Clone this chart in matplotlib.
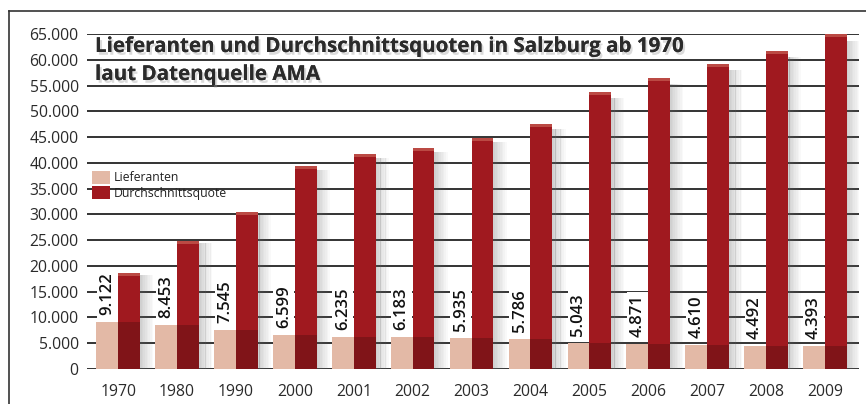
import matplotlib
matplotlib.use("Agg")
import matplotlib.pyplot as plt
import matplotlib.patheffects as pe
from matplotlib.lines import Line2D
import numpy as np

years = ["1970", "1980", "1990", "2000", "2001", "2002", "2003",
         "2004", "2005", "2006", "2007", "2008", "2009"]
lieferanten = [9122, 8453, 7545, 6599, 6235, 6183, 5935,
               5786, 5043, 4871, 4610, 4492, 4393]
quote = [18700, 24900, 30400, 39400, 41700, 42900, 44900,
         47500, 53700, 56400, 59200, 61700, 65000]
lief_labels = ["9.122", "8.453", "7.545", "6.599", "6.235", "6.183", "5.935",
               "5.786", "5.043", "4.871", "4.610", "4.492", "4.393"]
yticks = list(range(0, 65001, 5000))
ytick_labels = ["0", "5.000", "10.000", "15.000", "20.000", "25.000", "30.000",
                "35.000", "40.000", "45.000", "50.000", "55.000", "60.000", "65.000"]
title1 = "Lieferanten und Durchschnittsquoten in Salzburg ab 1970"
title2 = "laut Datenquelle AMA"
legend_labels = ["Lieferanten", "Durchschnittsquote"]

plt.rcParams['font.family'] = ['Open Sans', 'DejaVu Sans']

W, H = 866, 404
fig = plt.figure(figsize=(W / 100, H / 100), dpi=100)
ax = fig.add_axes([87 / W, 1 - 369 / H, (859 - 87) / W, (369 - 34) / H])

light_col = "#e3b9a6"
red_col = "#a0191f"
x = np.arange(len(years))
bw = 0.37

# gridlines
for yv in yticks:
    ax.axhline(yv, color="#111111", lw=1.2, zorder=1)

px_per_unit_y = (369 - 34) / 65000.0
cap = 3 / px_per_unit_y

# soft shadows right of red bars
nsh = 8
for k in range(nsh):
    ax.bar(x + bw + k * 0.028, np.array(quote) * 0.98, width=0.03,
           color="#666666", alpha=0.30 * (1 - k / nsh), zorder=2, linewidth=0, align="edge")

b1 = ax.bar(x - bw / 2, lieferanten, width=bw, color=light_col, zorder=3,
            linewidth=0, label=legend_labels[0])
b2 = ax.bar(x + bw / 2, quote, width=bw, color=red_col, zorder=3,
            linewidth=0, label=legend_labels[1])
# darker lower part of red bars (shading next to light bars)
ax.bar(x + bw / 2, lieferanten, width=bw, color="#000000", alpha=0.2, zorder=4, linewidth=0)
# lighter top rim
ax.bar(x + bw / 2, [cap] * len(x), bottom=np.array(quote) - cap, width=bw,
       color="#bb4a44", zorder=4, linewidth=0)

for xi, v, lab in zip(x, lieferanten, lief_labels):
    ax.annotate(lab, (xi - bw / 2, v), xytext=(0, 5), textcoords="offset points",
                rotation=90, ha="center", va="bottom", fontsize=12,
                fontweight="semibold", color="#111111", zorder=5,
                bbox=dict(boxstyle="square,pad=0.15", fc="white", ec="none"))

ax.set_xlim(-0.53, 12.58)
ax.set_ylim(0, 65000)
ax.set_yticks(yticks)
ax.set_yticklabels(ytick_labels, fontsize=11.3, color="#2a2a2a")
ax.set_xticks(x)
ax.set_xticklabels(years, fontsize=11.3, color="#2a2a2a")
ax.tick_params(axis="both", length=0)
ax.tick_params(axis="y", pad=6)
ax.tick_params(axis="x", pad=11)
for s in ax.spines.values():
    s.set_visible(False)

shadow = [pe.withSimplePatchShadow(offset=(1.5, -2), shadow_rgbFace="#999999", alpha=0.35), pe.Normal()]
ax.text((95 - 87) / 772, (369 - 52) / 335, title1, transform=ax.transAxes,
        fontsize=14.8, fontweight="bold", color="#2b2b2b", va="baseline", ha="left",
        zorder=6, path_effects=shadow)
ax.text((95 - 87) / 772, (369 - 80) / 335, title2, transform=ax.transAxes,
        fontsize=14.8, fontweight="bold", color="#2b2b2b", va="baseline", ha="left",
        zorder=6, path_effects=shadow)

leg = ax.legend(handles=[b1, b2], loc="upper left",
                bbox_to_anchor=((92 - 87) / 772, (369 - 171) / 335),
                frameon=False, fontsize=8.8, handlelength=1.5, handleheight=1.2,
                labelspacing=0.15, handletextpad=0.25, borderaxespad=0, borderpad=0)
for t in leg.get_texts():
    t.set_color("#222222")

# outer frame (left and top)
fig.add_artist(Line2D([9 / W, 9 / W], [0, 1 - 11 / H], color="#333333", lw=1.2))
fig.add_artist(Line2D([9 / W, 1], [1 - 11 / H, 1 - 11 / H], color="#333333", lw=1.2))

fig.savefig("out.png", dpi=100, facecolor="white")
